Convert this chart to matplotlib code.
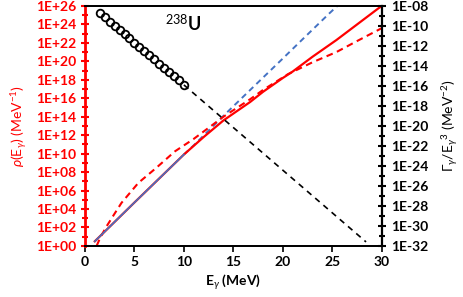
import matplotlib
matplotlib.use("Agg")
import matplotlib.pyplot as plt
import numpy as np
from matplotlib.ticker import FixedLocator, FuncFormatter, NullFormatter

plt.rcParams['font.family'] = ['Lato', 'DejaVu Sans']
plt.rcParams['mathtext.fontset'] = 'custom'
plt.rcParams['mathtext.rm'] = 'Lato'
plt.rcParams['mathtext.it'] = 'Lato:italic'
plt.rcParams['mathtext.bf'] = 'Lato:bold'

# level density rho(E) (log10, left axis)
E_rho = [1.0, 3.0, 5.0, 7.5, 10.0, 12.0, 13.0, 14.0, 16.7, 18.0, 20.0, 21.0, 23.0, 25.4, 27.5, 29.6, 30.0]
lg_rho = [0.5, 2.6, 4.7, 7.3, 9.9, 11.8, 12.7, 13.6, 15.6, 16.7, 18.2, 18.9, 20.5, 22.3, 24.0, 25.7, 26.0]

# red dashed model
E_rd = [1.18, 1.6, 2.2, 3.0, 3.7, 5.4, 7.2, 9.1, 11.0, 14.0, 16.7, 18.0, 20.5, 23.0, 25.4, 27.5, 30.0]
lg_rd = [0.0, 1.0, 2.14, 3.5, 4.67, 6.83, 8.45, 10.25, 11.6, 14.0, 15.9, 16.9, 18.6, 19.9, 21.0, 22.2, 23.6]

# blue model: solid part and dashed extrapolation
E_bs = [1.0, 3.0, 5.0, 7.5, 10.0]
lg_bs = [0.5, 2.6, 4.7, 7.3, 9.9]
E_bd = [10.0, 11.0, 12.5, 14.0, 16.7, 19.7, 22.0, 24.7, 25.5]
lg_bd = [9.9, 10.9, 12.5, 14.1, 16.9, 20.0, 22.4, 25.2, 26.0]

# gamma strength Gamma/E^3 (log10, right axis)
E_g = [1.5, 2.0, 2.5, 3.0, 3.5, 4.0, 4.5, 5.0, 5.5, 6.0, 6.5, 7.0, 7.5, 8.0, 8.5, 9.0, 9.5, 10.0]
lg_g = [-8.7, -9.15, -9.6, -10.0, -10.4, -10.85, -11.25, -11.7, -12.1, -12.5,
        -12.95, -13.35, -13.8, -14.2, -14.6, -15.05, -15.45, -15.9]
E_gx = [10.0, 28.4]
lg_gx = [-15.9, -31.6]

def p10(a):
    return 10.0 ** np.array(a)

def efmt(v, pos):
    return "1E%+03d" % int(round(np.log10(v)))

fig = plt.figure(figsize=(4.64, 2.97), dpi=100)
ax = fig.add_axes([0.183, 0.172, 0.640, 0.808])
ax2 = ax.twinx()

ax.plot(E_rho, p10(lg_rho), color='red', lw=1.6, zorder=3)
ax.plot(E_bs, p10(lg_bs), color='#4472C4', lw=1.2, zorder=4)
ax.plot(E_bd, p10(lg_bd), color='#4472C4', lw=1.4, ls=(0, (3, 2.2)), zorder=2)
ax.plot(E_rd, p10(lg_rd), color='red', lw=1.5, ls=(0, (3.2, 2.2)), zorder=2)

ax2.plot(E_gx, p10(lg_gx), color='black', lw=1.2, ls=(0, (3.5, 3)))
ax2.plot(E_g, p10(lg_g), 'o', mfc='none', mec='black', mew=1.3, ms=5.5)

ax.set_yscale('log')
ax2.set_yscale('log')
ax.set_xlim(0, 30)
ax.set_ylim(1, 1e26)
ax2.set_ylim(1e-32, 1e-8)

ax.xaxis.set_major_locator(FixedLocator([0, 5, 10, 15, 20, 25, 30]))
ax.tick_params(axis='x', direction='out', length=4, width=1.2, labelsize=10)
for lab in ax.get_xticklabels():
    lab.set_fontweight('bold')

ax.yaxis.set_major_locator(FixedLocator(10.0 ** np.arange(0, 27, 2)))
ax.yaxis.set_minor_locator(FixedLocator(10.0 ** np.arange(1, 26, 2)))
ax.yaxis.set_major_formatter(FuncFormatter(efmt))
ax.yaxis.set_minor_formatter(NullFormatter())
ax.tick_params(axis='y', which='major', direction='inout', length=6, width=1.5,
               colors='red', labelsize=10, labelcolor='red')
ax.tick_params(axis='y', which='minor', direction='inout', length=4, width=1.5, colors='red')

ax2.yaxis.set_major_locator(FixedLocator(10.0 ** np.arange(-32, -7, 2)))
ax2.yaxis.set_minor_locator(FixedLocator(10.0 ** np.arange(-31, -8, 2)))
ax2.yaxis.set_major_formatter(FuncFormatter(efmt))
ax2.yaxis.set_minor_formatter(NullFormatter())
ax2.tick_params(axis='y', which='major', direction='inout', length=6, width=1.5,
                colors='black', labelsize=10)
ax2.tick_params(axis='y', which='minor', direction='inout', length=4, width=1.5, colors='black')

for lab in ax.get_yticklabels() + ax2.get_yticklabels():
    lab.set_fontweight('bold')

ax.spines['left'].set_color('red')
ax.spines['left'].set_linewidth(2.0)
ax.spines['bottom'].set_linewidth(1.3)
ax.spines['top'].set_linewidth(1.3)
ax.spines['right'].set_visible(False)
ax2.spines['left'].set_visible(False)
ax2.spines['right'].set_linewidth(1.6)
ax2.spines['top'].set_linewidth(1.3)
ax2.spines['bottom'].set_linewidth(1.3)

ax.set_xlabel(r'E$_\gamma$ (MeV)', fontsize=10, fontweight='bold', labelpad=3)
ax.set_ylabel(r'$\rho$(E$_\gamma$) (MeV$^{-1}$)', fontsize=10, color='red', labelpad=4)
ax2.set_ylabel(r'$\Gamma_\gamma$/E$_\gamma$$^3$ (MeV$^{-2}$)', fontsize=10, labelpad=9)

ax.text(0.27, 0.925, r'$^{238}$U', transform=ax.transAxes, fontsize=13,
        fontweight='bold', ha='left', va='center')

fig.savefig('out.png', dpi=100)
